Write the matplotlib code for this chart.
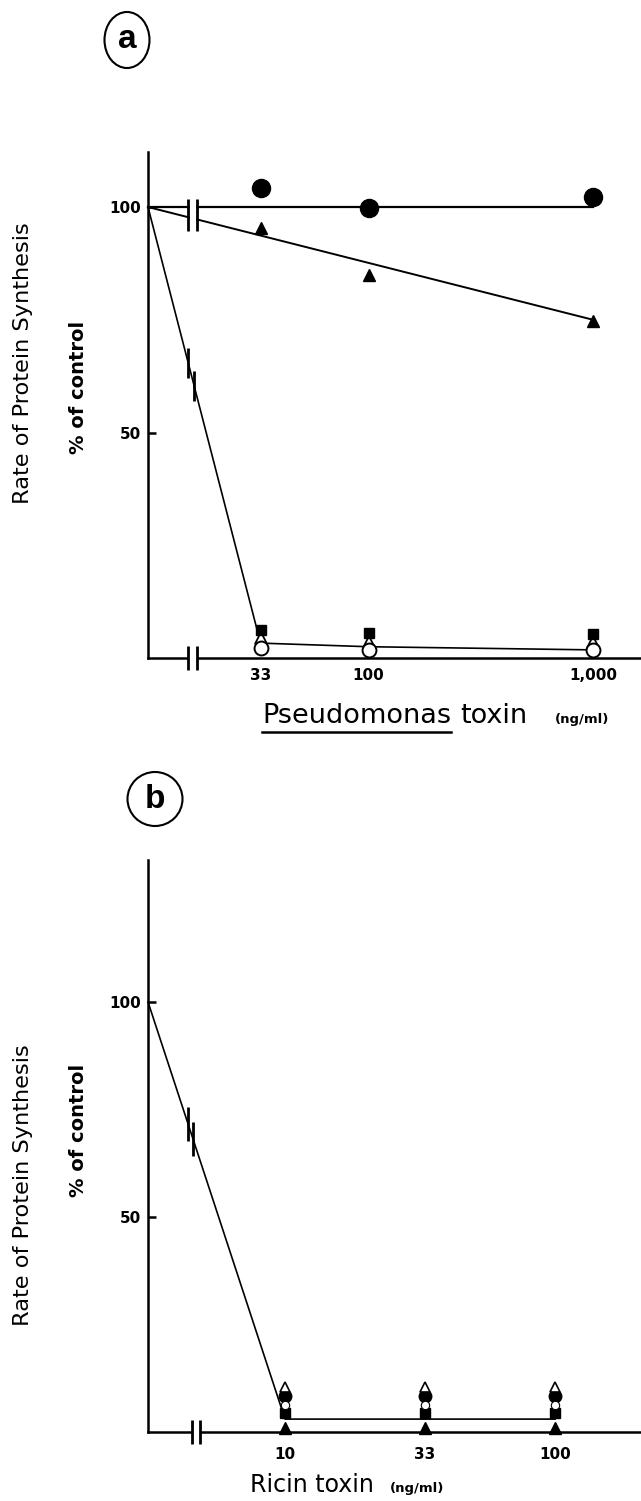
import numpy as np
import matplotlib.pyplot as plt
from matplotlib.patches import Ellipse
from matplotlib.lines import Line2D
from matplotlib.ticker import NullLocator

# ---- panel a : Pseudomonas toxin (ng/ml) ----
pse_conc = [33, 100, 1000]
pse_labels = ['33', '100', '1,000']
pse_filled_circle = [104.2, 99.8, 102.2]
pse_filled_tri = [95.3, 84.9, 74.7]
pse_filled_sq = [6.2, 5.5, 5.3]
pse_open_tri = [4.4, 3.5, 3.5]
pse_open_circle = [2.2, 1.8, 1.8]
# fitted lines (first value = control, 100 %)
pse_line_flat = [100, 100]
pse_line_slope = [100, 75.0]
pse_line_steep = [100, 3.3, 2.5, 1.8]

# ---- panel b : Ricin toxin (ng/ml) ----
ric_conc = [10, 33, 100]
ric_labels = ['10', '33', '100']
ric_open_tri = [10.5, 10.5, 10.5]
ric_filled_circle = [8.4, 8.4, 8.4]
ric_open_circle = [6.3, 6.3, 6.3]
ric_filled_sq = [4.4, 4.4, 4.4]
ric_filled_tri = [1.0, 1.0, 1.0]
ric_line = [100, 3.0, 3.0, 3.0]

W, H = 641, 1501
fig = plt.figure(figsize=(W / 100, H / 100), dpi=100)


def box(x0, y0, x1, y1):
    # pixel box (top-left origin) -> figure fraction
    return [x0 / W, 1 - y1 / H, (x1 - x0) / W, (y1 - y0) / H]


def on_line(xq, xs, ys):
    return np.interp(np.log10(xq), np.log10(xs), ys)


def brk(ax, xs, ys, ms):
    # white gap + two bars
    ax.plot(xs, ys, color='white', lw=4, solid_capstyle='butt', clip_on=False, zorder=6)
    ax.plot(xs, ys, ls='none', marker='|', ms=ms, mew=2, color='k', clip_on=False, zorder=7)


def style(ax, xlo, xhi, ytop, ticks, labels, xpad):
    ax.set_xscale('log')
    ax.set_xlim(xlo, xhi)
    ax.set_ylim(0, ytop)
    ax.xaxis.set_minor_locator(NullLocator())
    ax.set_xticks(ticks, labels)
    ax.set_yticks([50, 100], ['50', '100'])
    for s in ['top', 'right']:
        ax.spines[s].set_visible(False)
    for s in ['left', 'bottom']:
        ax.spines[s].set_linewidth(1.8)
    ax.tick_params(axis='x', length=0, pad=xpad)
    ax.tick_params(axis='y', direction='in', length=6, width=1.8, pad=5)
    for t in ax.get_xticklabels() + ax.get_yticklabels():
        t.set_fontweight('bold')
        t.set_fontsize(11)


# ================= panel a =================
ax = fig.add_axes(box(148, 152, 641, 658))
xa_lo, xa_hi = 10.4, 1637
style(ax, xa_lo, xa_hi, 112.2, pse_conc, pse_labels, 7)

x_flat = [xa_lo, pse_conc[-1]]
x_steep = [xa_lo] + pse_conc
ax.plot(x_flat, pse_line_flat, color='k', lw=1.6, clip_on=False)
ax.plot(x_flat, pse_line_slope, color='k', lw=1.4, clip_on=False)
ax.plot(x_steep, pse_line_steep, color='k', lw=1.2, clip_on=False)

ax.plot(pse_conc, pse_filled_circle, 'o', color='k', ms=13, ls='none', zorder=5)
ax.plot(pse_conc, pse_filled_tri, '^', color='k', ms=9, ls='none', zorder=5)
ax.plot(pse_conc, pse_open_tri, '^', mfc='white', mec='k', mew=1.3, ms=8, ls='none', zorder=5)
ax.plot(pse_conc, pse_filled_sq, 's', color='k', ms=6.5, ls='none', zorder=5)
ax.plot(pse_conc, pse_open_circle, 'o', mfc='white', mec='k', mew=1.4, ms=10, ls='none', zorder=5)

# axis breaks
bx_a = [15.7, 17.2]
brk(ax, bx_a, [0, 0], 17)
brk(ax, bx_a, pse_line_flat, 1)
brk(ax, bx_a, list(on_line(bx_a, x_flat, pse_line_slope)), 1)
ax.plot(bx_a, [98.2, 98.2], ls='none', marker='|', ms=23, mew=2, color='k', zorder=7)
bs_a = [15.7, 16.7]
ax.plot(bs_a, on_line(bs_a, x_steep, pse_line_steep), ls='none', marker='|',
        ms=22, mew=2, color='k', zorder=7)

# ================= panel b =================
bx = fig.add_axes(box(148, 860, 641, 1432))
xb_lo, xb_hi = 3.11, 208
style(bx, xb_lo, xb_hi, 133, ric_conc, ric_labels, 11)

x_ric = [xb_lo] + ric_conc
bx.plot(x_ric, ric_line, color='k', lw=1.2, clip_on=False)
bx.plot(ric_conc, ric_filled_tri, '^', color='k', ms=8, ls='none', zorder=5, clip_on=False)
bx.plot(ric_conc, ric_filled_sq, 's', color='k', ms=7, ls='none', zorder=5)
bx.plot(ric_conc, ric_filled_circle, 'o', color='k', ms=9, ls='none', zorder=5)
bx.plot(ric_conc, ric_open_circle, 'o', mfc='white', mec='k', mew=0.8, ms=6, ls='none', zorder=6)
bx.plot(ric_conc, ric_open_tri, '^', mfc='white', mec='k', mew=1.2, ms=7.5, ls='none', zorder=6)

brk(bx, [4.52, 4.84], [0, 0], 17)
bs_b = [4.38, 4.56]
bx.plot(bs_b, on_line(bs_b, x_ric, ric_line), ls='none', marker='|',
        ms=25, mew=2, color='k', zorder=7)

# ================= labels =================
for yc_rate, yc_ctrl in [(363, 387), (1185, 1130)]:
    fig.text(23 / W, 1 - yc_rate / H, 'Rate of Protein Synthesis', rotation=90,
             ha='center', va='center', fontsize=16.2)
    fig.text(78 / W, 1 - yc_ctrl / H, '% of control', rotation=90,
             ha='center', va='center', fontsize=14, fontweight='bold')

t_pse = fig.text(262 / W, 1 - 723 / H, 'Pseudomonas', fontsize=19.5, va='baseline', ha='left')
fig.text(460 / W, 1 - 723 / H, 'toxin', fontsize=19.5, va='baseline', ha='left')
fig.text(555 / W, 1 - 723 / H, '(ng/ml)', fontsize=9.5, fontweight='bold', va='baseline', ha='left')
fig.canvas.draw()
bb = t_pse.get_window_extent()
fig.add_artist(Line2D([bb.x0 / W, bb.x1 / W], [1 - 732 / H] * 2,
                      transform=fig.transFigure, color='k', lw=1.8))

fig.text(250 / W, 1 - 1492 / H, 'Ricin toxin', fontsize=17, va='baseline', ha='left')
fig.text(390 / W, 1 - 1492 / H, '(ng/ml)', fontsize=9.5, fontweight='bold', va='baseline', ha='left')

# circled panel letters
for cx, cy, w, h, letter in [(127, 40, 45, 56, 'a'), (155, 799, 55, 54, 'b')]:
    fig.add_artist(Ellipse((cx / W, 1 - cy / H), w / W, h / H, transform=fig.transFigure,
                           fill=False, lw=1.5, color='k'))
    fig.text(cx / W, 1 - cy / H, letter, ha='center', va='center', fontsize=24,
             fontweight='bold', family='Liberation Sans')

fig.savefig('out.png', dpi=100)
